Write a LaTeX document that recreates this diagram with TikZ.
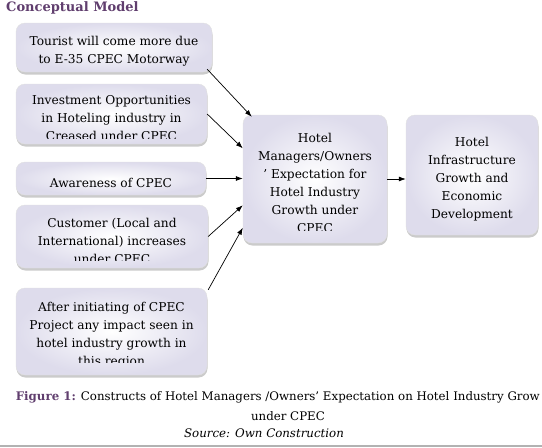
\documentclass[tikz,border=0pt]{standalone}
\usepackage{fontspec}
\setmainfont{DejaVu Serif}
\usetikzlibrary{arrows.meta,shadows,fit}
\definecolor{roxo}{RGB}{96,62,110}
\definecolor{lavanda}{RGB}{222,220,236}
\tikzset{
  caixa/.style={rounded corners=9pt, draw=black!12, line width=0.4pt, inner color=white, outer color=lavanda,
    inner sep=0pt, drop shadow={shadow xshift=0.5pt, shadow yshift=-2.5pt, fill=black!45, opacity=0.45}},
  rotulo/.style={align=center, inner sep=0pt, font=\fontsize{12.2}{18}\selectfont},
  seta/.style={-{Latex[length=7pt,width=5pt]}, line width=0.7pt},
  titulo/.style={anchor=west, inner sep=0pt, font=\fontsize{13}{15}\selectfont\bfseries, text=roxo},
  legenda/.style={inner sep=0pt, font=\fontsize{11.8}{14}\selectfont},
}
% caixa com o texto cortado em #6 (borda de baixo do texto)
\newcommand{\bloco}[7]{%
  \node[caixa, fit={(#2,#3) (#4,#5)}] (#1) {};
  \begin{scope}
    \clip (#2,#3) rectangle (#4,#6);
    \node[rotulo] (#1t) at ([yshift=-4pt]#1.center) {#7};
  \end{scope}
}

\begin{document}
\begin{tikzpicture}[x=1pt, y=-1pt]
  \clip (0,0) rectangle (542,448);
  \fill[white] (0,0) rectangle (542,448);

  \node[titulo] (titulo) at (6,8) {Conceptual Model};

  % ---------------- construtos ----------------
  \bloco{turista}{16}{23}{212}{72}{72}{Tourist will come more due\\to E-35 CPEC Motorway}
  \bloco{investimento}{16}{84}{207}{144}{138}{Investment Opportunities\\in Hoteling industry in\\Creased under CPEC}
  \bloco{consciencia}{16}{162}{206}{195}{195}{Awareness of CPEC}
  \bloco{cliente}{16}{205}{208}{268}{260}{Customer (Local and\\International) increases\\under CPEC}
  \bloco{impacto}{16}{288}{207}{375}{362}{After initiating of CPEC\\Project any impact seen in\\hotel industry growth in\\this region}

  % ---------------- expectativa e resultado ----------------
  \bloco{expectativa}{243}{115}{387}{243}{230}{Hotel\\Managers/Owners\\' Expectation for\\Hotel Industry\\Growth under\\CPEC}
  \bloco{infra}{406}{115}{538}{235}{235}{Hotel\\Infrastructure\\Growth and\\Economic\\Development}

  % ---------------- setas ----------------
  \draw[seta] ([shift={(-5pt,3pt)}]turista.south east) -- ([shift={(9pt,-2pt)}]expectativa.north west);
  \draw[seta] (investimento.east) -- (expectativa.157);
  \draw[seta] (consciencia.east) -- (consciencia.east -| expectativa.west);
  \draw[seta] (cliente.east) -- (expectativa.200);
  \draw[seta] ([shift={(1pt,-2pt)}]impacto.north east) -- (expectativa.214);
  \draw[seta] (expectativa.east) -- (expectativa.east -| infra.west);

  % ---------------- legenda ----------------
  \node[legenda, anchor=east] (fig) at (540,397)
    {\textcolor{roxo}{\bfseries Figure 1:} Constructs of Hotel Managers /Owners' Expectation on Hotel Industry Grow};
  \node[legenda] (fig2) at (288,416) {under CPEC};
  \node[legenda, font=\fontsize{11.8}{14}\selectfont\itshape] (fonte) at (264,433) {Source: Own Construction};
  \draw[black!30, line width=1.5pt] (0,446) -- (542,446);
\end{tikzpicture}
\end{document}
